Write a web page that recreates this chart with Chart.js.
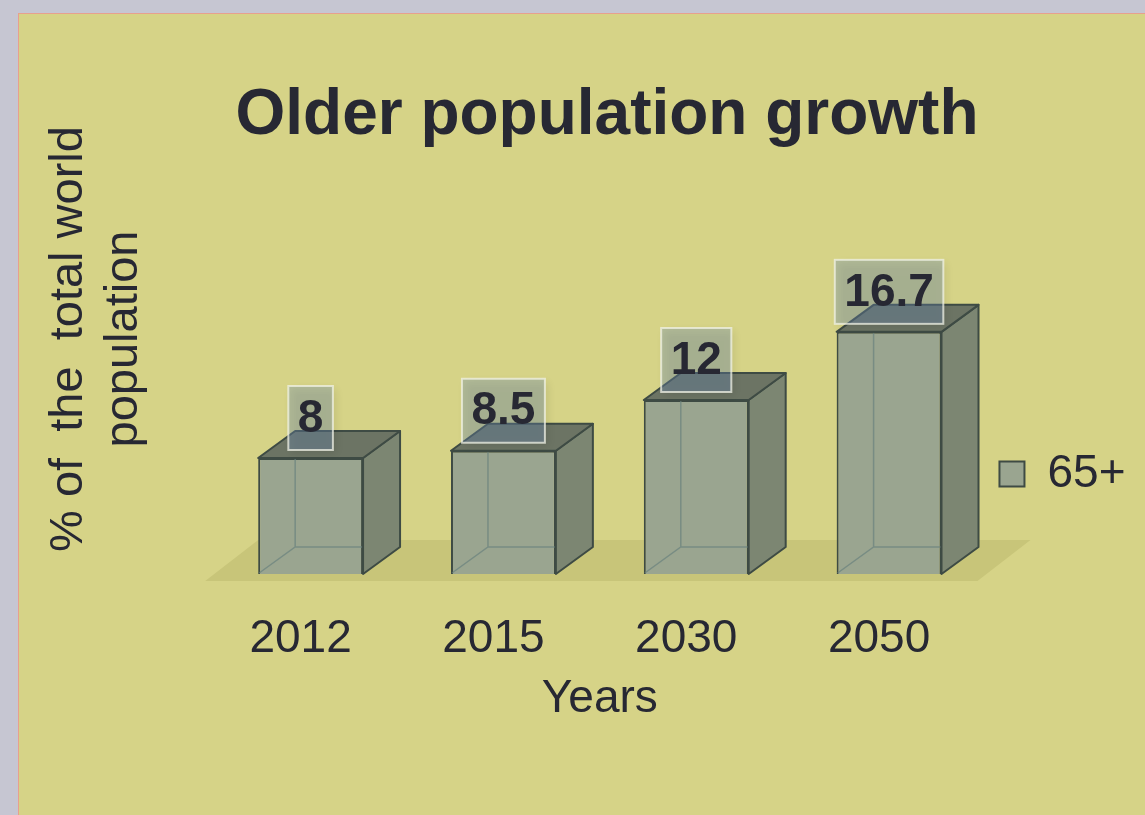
<!DOCTYPE html>
<html>
<head>
<meta charset="utf-8">
<title>Older population growth</title>
<script src="https://cdn.jsdelivr.net/npm/chart.js@4.4.1/dist/chart.umd.min.js"></script>
<style>
html, body { margin: 0; padding: 0; overflow: hidden; background: #c6c6d2; width: 1145px; height: 815px; }
#panel { position: absolute; left: 18px; top: 13px; width: 1200px; height: 900px; background: #d6d387;
         border-left: 1px solid #e7a08e; border-top: 1px solid #e7a08e; }
#chart { position: absolute; left: 0; top: 0; }
</style>
</head>
<body>
<div id="panel"><canvas id="chart" width="1176" height="801"></canvas></div>
<script>
// data
var years = ["2012", "2015", "2030", "2050"];
var share65 = [8, 8.5, 12, 16.7];
var seriesName = "65+";
var yTitle = ["% of  the  total world", "population"];

var ink = "#272833";
var fontFamily = "'Liberation Sans', Arial, sans-serif";
Chart.defaults.font.family = fontFamily;
Chart.defaults.color = ink;

// 3d look: floor, side and top faces drawn off the bar elements
var cubePlugin = {
    id: "cube",
    beforeDatasetsDraw: function (chart) {
        var a = chart.chartArea, ctx = chart.ctx;
        var base = chart.scales.y.getPixelForValue(0);
        ctx.save();
        ctx.fillStyle = "#c8c579";
        ctx.beginPath();
        ctx.moveTo(a.left - 9, base + 7);
        ctx.lineTo(a.right - 8, base + 7);
        ctx.lineTo(a.right + 45, base - 34);
        ctx.lineTo(a.left + 44, base - 34);
        ctx.closePath();
        ctx.fill();
        ctx.restore();
    },
    afterDatasetsDraw: function (chart) {
        var ctx = chart.ctx;
        var dx = 37, dy = -27;
        chart.getDatasetMeta(0).data.forEach(function (bar) {
            var p = bar.getProps(["x", "y", "base", "width"], true);
            var l = p.x - p.width / 2, r = p.x + p.width / 2, t = p.y, b = p.base;
            ctx.save();
            // hidden edges seen through the front
            ctx.strokeStyle = "rgba(105,130,125,0.7)";
            ctx.lineWidth = 1.5;
            ctx.beginPath();
            ctx.moveTo(l + 1, b - 1);
            ctx.lineTo(l + dx, b + dy);
            ctx.lineTo(r + dx, b + dy);
            ctx.moveTo(l + dx, b + dy);
            ctx.lineTo(l + dx, t + 1);
            ctx.stroke();
            ctx.strokeStyle = "#3e4b44";
            ctx.lineWidth = 2;
            ctx.lineJoin = "round";
            // side
            ctx.fillStyle = "#7c8672";
            ctx.beginPath();
            ctx.moveTo(r, t);
            ctx.lineTo(r + dx, t + dy);
            ctx.lineTo(r + dx, b + dy);
            ctx.lineTo(r, b);
            ctx.closePath();
            ctx.fill();
            ctx.stroke();
            // top
            ctx.fillStyle = "#6c7464";
            ctx.beginPath();
            ctx.moveTo(l, t);
            ctx.lineTo(l + dx, t + dy);
            ctx.lineTo(r + dx, t + dy);
            ctx.lineTo(r, t);
            ctx.closePath();
            ctx.fill();
            ctx.stroke();
            ctx.restore();
        });
    }
};

// value boxes above the bars
var valuePlugin = {
    id: "values",
    afterDatasetsDraw: function (chart) {
        var ctx = chart.ctx;
        var values = chart.data.datasets[0].data;
        ctx.save();
        ctx.font = "bold 46px " + fontFamily;
        chart.getDatasetMeta(0).data.forEach(function (bar, i) {
            var txt = String(values[i]);
            var w = ctx.measureText(txt).width + 19;
            var h = 64;
            var cx = bar.x, cy = bar.y - 40;
            ctx.save();
            ctx.shadowColor = "rgba(0,0,0,0.25)";
            ctx.shadowBlur = 8;
            ctx.shadowOffsetX = 3;
            ctx.shadowOffsetY = 3;
            ctx.fillStyle = "rgba(110,140,180,0.35)";
            ctx.fillRect(cx - w / 2, cy - h / 2, w, h);
            ctx.restore();
            ctx.strokeStyle = "rgba(240,242,230,0.75)";
            ctx.lineWidth = 2;
            ctx.strokeRect(cx - w / 2, cy - h / 2, w, h);
            ctx.fillStyle = ink;
            ctx.textAlign = "center";
            ctx.textBaseline = "middle";
            ctx.fillText(txt, cx, cy + 1);
        });
        ctx.restore();
    }
};

// rotated y axis title
var yTitlePlugin = {
    id: "ytitle",
    afterDraw: function (chart) {
        var ctx = chart.ctx;
        ctx.save();
        ctx.translate(50, 325);
        ctx.rotate(-Math.PI / 2);
        ctx.font = "47px " + fontFamily;
        ctx.fillStyle = ink;
        ctx.textAlign = "center";
        ctx.textBaseline = "middle";
        yTitle.forEach(function (line, i) {
            ctx.fillText(line, 0, i * 55);
        });
        ctx.restore();
    }
};

var ctx = document.getElementById("chart").getContext("2d");
var chart = new Chart(ctx, {
    type: "bar",
    data: {
        labels: years,
        datasets: [{
            label: seriesName,
            data: share65,
            backgroundColor: "#9aa590",
            borderColor: "#3e4b44",
            borderWidth: 2,
            barPercentage: 0.544,
            categoryPercentage: 1
        }]
    },
    options: {
        responsive: false,
        animation: false,
        layout: { padding: { left: 59.5, right: 59.5, top: 0, bottom: 0 } },
        plugins: {
            title: {
                display: true,
                text: "Older population growth",
                color: ink,
                font: { size: 64, weight: "bold" },
                padding: { top: 63.6, bottom: 129.6 }
            },
            legend: {
                position: "right",
                title: { display: true, text: "", font: { size: 10 }, padding: { top: 107, bottom: 0 } },
                labels: {
                    boxWidth: 25,
                    boxHeight: 25,
                    padding: 14,
                    color: ink,
                    font: { size: 46 }
                }
            },
            tooltip: { enabled: false }
        },
        scales: {
            x: {
                grid: { display: false, drawTicks: false },
                border: { display: false },
                ticks: { font: { size: 46 }, color: ink, padding: 37.4, labelOffset: -10 },
                title: {
                    display: true,
                    text: "Years",
                    color: ink,
                    font: { size: 46 },
                    padding: { top: -32.6, bottom: 88.4 }
                }
            },
            y: {
                display: false,
                min: 0,
                max: 20,
                afterFit: function (scale) { scale.width = 135.7; }
            }
        }
    },
    plugins: [cubePlugin, valuePlugin, yTitlePlugin]
});
</script>
</body>
</html>
